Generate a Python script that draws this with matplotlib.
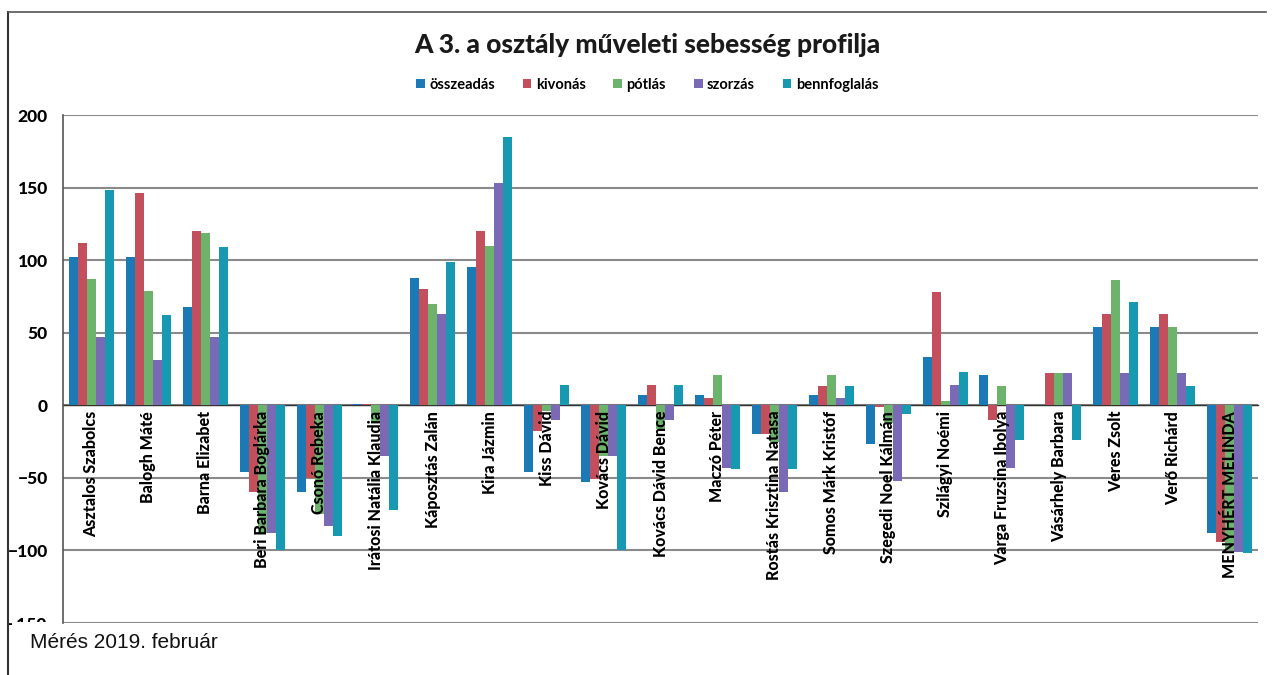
import matplotlib
matplotlib.use("Agg")
import matplotlib.pyplot as plt
import matplotlib.patches as mpatches
import numpy as np

students = ["Asztalos Szabolcs", "Balogh Máté", "Barna Elizabet", "Beri Barbara Boglárka",
            "Csonó Rebeka", "Irátosi Natália Klaudia", "Káposztás Zalán", "Kira Jázmin",
            "Kiss Dávid", "Kovács Dávid", "Kovács Dávid Bence", "Maczó Péter",
            "Rostás Krisztina Natasa", "Somos Márk Kristóf", "Szegedi Noel Kálmán",
            "Szilágyi Noémi", "Varga Fruzsina Ibolya", "Vásárhely Barbara", "Veres Zsolt",
            "Verő Richárd", "MENYHÉRT MELINDA"]

series_names = ["összeadás", "kivonás", "pótlás", "szorzás", "bennfoglalás"]

osszeadas = [102, 102, 68, -46, -60, 1, 88, 95, -46, -53, 7, 7, -20, 7, -27, 33, 21, 0, 54, 54, -88]
kivonas = [112, 146, 120, -60, -50, 1, 80, 120, -18, -51, 14, 5, -20, 13, -1, 78, -10, 22, 63, 63, -94]
potlas = [87, 79, 119, -88, -75, -12, 70, 110, -4, -35, -16, 21, -25, 21, -12, 3, 13, 22, 86, 54, -100]
szorzas = [47, 31, 47, -88, -83, -35, 63, 153, -10, -35, -10, -43, -60, 5, -52, 14, -43, 22, 22, 22, -101]
bennfoglalas = [148, 62, 109, -100, -90, -72, 99, 185, 14, -100, 14, -44, -44, 13, -6, 23, -24, -24, 71, 13, -102]

colors = ["#1b79b5", "#c44f5c", "#6cb36c", "#7a6ab6", "#1699b1"]

fig = plt.figure(figsize=(12.74, 6.75), dpi=100)
ax = fig.add_axes([63/1274, 1-623/675, (1258-63)/1274, (623-115)/675])

data = [osszeadas, kivonas, potlas, szorzas, bennfoglalas]
x = np.arange(len(students))
w = 0.158
for i, (vals, c, name) in enumerate(zip(data, colors, series_names)):
    ax.bar(x + (i - 2) * w, vals, width=w, color=c, label=name, zorder=2)

ax.set_xlim(-0.5, len(students) - 0.5)
ax.set_ylim(-150, 200)
ax.set_yticks([-150, -100, -50, 0, 50, 100, 150, 200])
ax.yaxis.grid(True, color="#8a8a8a", linewidth=1.5)
ax.set_axisbelow(True)

for s in ["top", "right"]:
    ax.spines[s].set_visible(False)
ax.spines["left"].set_color("#555555")
ax.spines["left"].set_linewidth(1.2)
ax.spines["bottom"].set_position(("data", 0))
ax.spines["bottom"].set_color("#333333")
ax.spines["bottom"].set_linewidth(1.0)
ax.spines["bottom"].set_zorder(1)

ax.set_xticks(x)
ax.set_xticklabels(students, rotation=90, fontsize=11.5, fontweight="black",
                   family="Lato", va="top")
ax.tick_params(axis="x", length=0, pad=4)
ax.tick_params(axis="y", length=0, pad=11)
ax.xaxis.set_zorder(5)
for lbl in ax.get_yticklabels():
    lbl.set_fontsize(12.5)
    lbl.set_fontweight("black")
    lbl.set_family("Lato")

fig.text(647/1274, 1 - 45/675, "A 3. a osztály műveleti sebesség profilja", ha="center",
         va="center", fontsize=19, fontweight="black", family="Lato", color="#1a1a1a")

leg = fig.legend(loc="center", bbox_to_anchor=(0.508, 1 - 85/675), ncol=5, frameon=False,
                 handlelength=0.6, handleheight=0.6, handletextpad=0.3, columnspacing=1.9,
                 prop={"family": "Lato", "weight": "bold", "size": 10.5})

# white strip partially hiding the lowest tick label, as in the scanned original
fig.add_artist(mpatches.Rectangle((12/1274, 1 - 634/675), 48/1274, 12/675,
                                  transform=fig.transFigure, facecolor="white",
                                  edgecolor="none", zorder=10))

fig.text(30/1274, 1 - 642/675, "Mérés 2019. február", ha="left", va="center",
         fontsize=15, family="Liberation Sans", color="#111111", zorder=11)

# outer chart frame
fig.add_artist(plt.Line2D([8/1274, 8/1274], [0, 1 - 12/675], color="#333333", linewidth=1.5,
                          transform=fig.transFigure))
fig.add_artist(plt.Line2D([8/1274, 1266/1274], [1 - 12/675, 1 - 12/675], color="#555555",
                          linewidth=1.2, transform=fig.transFigure))

fig.savefig("out.png", dpi=100)
